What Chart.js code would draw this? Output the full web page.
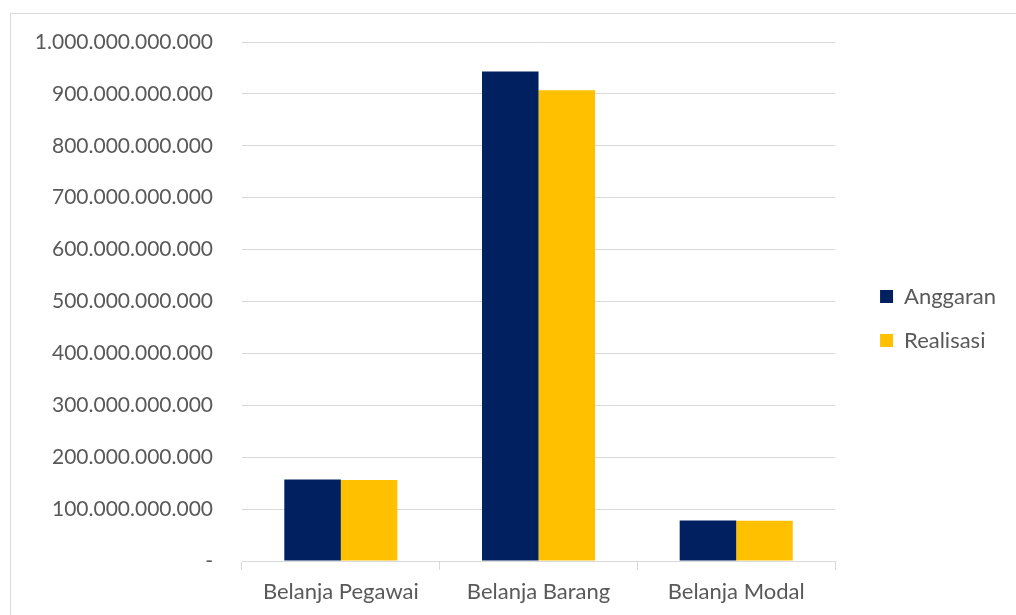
<!DOCTYPE html>
<html>
<head>
<meta charset="utf-8">
<script src="https://cdn.jsdelivr.net/npm/chart.js@4.4.1/dist/chart.umd.min.js"></script>
<style>
  html, body { margin: 0; padding: 0; background: #ffffff; }
  .frame {
    position: absolute;
    left: 10px;
    top: 13px;
    width: 1005px;
    height: 601px;
    border-top: 1px solid #d9d9d9;
    border-left: 1px solid #d9d9d9;
  }
</style>
</head>
<body>
<div class="frame">
  <canvas id="budgetChart"></canvas>
</div>
<script>
// Chart data
const categories = ['Belanja Pegawai', 'Belanja Barang', 'Belanja Modal'];
const anggaran = [157000000000, 943000000000, 78000000000];
const realisasi = [156000000000, 907000000000, 77500000000];
const yTickStep = 100000000000;
const yMax = 1000000000000;

const textColor = '#595959';
const gridColor = '#d9d9d9';
const fontFamily = 'Lato, "Open Sans", sans-serif';

// Format with dots as thousand separators, zero as a dash
function formatRupiah(value) {
    if (value === 0) return '-';
    return String(Math.round(value)).replace(/\B(?=(\d{3})+(?!\d))/g, '.');
}

// Widen the legend box and move it so it sits like the original
const legendPlace = {
    id: 'legendPlace',
    beforeInit(chart) {
        const lg = chart.legend;
        if (!lg) return;
        const origFit = lg.fit;
        lg.fit = function() {
            origFit.call(this);
            this.width += 13;
        };
    },
    afterLayout(chart) {
        const lg = chart.legend;
        if (!lg) return;
        lg.left += 23;
        lg.right += 23;
        lg.top -= 10;
        lg.bottom -= 10;
    }
};

const ctx = document.getElementById('budgetChart').getContext('2d');
new Chart(ctx, {
    type: 'bar',
    data: {
        labels: categories,
        datasets: [
            {
                label: 'Anggaran',
                data: anggaran,
                backgroundColor: '#002060',
                borderWidth: 0,
                categoryPercentage: 0.572,
                barPercentage: 1
            },
            {
                label: 'Realisasi',
                data: realisasi,
                backgroundColor: '#ffc000',
                borderWidth: 0,
                categoryPercentage: 0.572,
                barPercentage: 1
            }
        ]
    },
    options: {
        responsive: true,
        maintainAspectRatio: false,
        animation: false,
        layout: {
            padding: { top: 28, right: 20, bottom: 0, left: 0 }
        },
        plugins: {
            legend: {
                position: 'right',
                labels: {
                    color: textColor,
                    boxWidth: 13,
                    boxHeight: 13,
                    padding: 22,
                    font: { family: fontFamily, size: 22 }
                }
            },
            tooltip: { enabled: false }
        },
        scales: {
            x: {
                grid: {
                    display: true,
                    drawOnChartArea: false,
                    color: gridColor,
                    tickLength: 9
                },
                border: { display: true, color: gridColor },
                ticks: {
                    color: textColor,
                    padding: 9,
                    font: { family: fontFamily, size: 22 }
                },
                afterFit: function(scale) {
                    scale.height = 54;
                }
            },
            y: {
                min: 0,
                max: yMax,
                grid: {
                    color: gridColor,
                    drawTicks: false
                },
                border: { display: false },
                ticks: {
                    stepSize: yTickStep,
                    color: textColor,
                    padding: 29,
                    font: { family: fontFamily, size: 21 },
                    callback: function(value) {
                        return formatRupiah(value);
                    }
                },
                afterFit: function(scale) {
                    scale.width = 231;
                    scale.paddingTop = 0;
                    scale.paddingBottom = 0;
                }
            }
        }
    },
    plugins: [legendPlace]
});
</script>
</body>
</html>
